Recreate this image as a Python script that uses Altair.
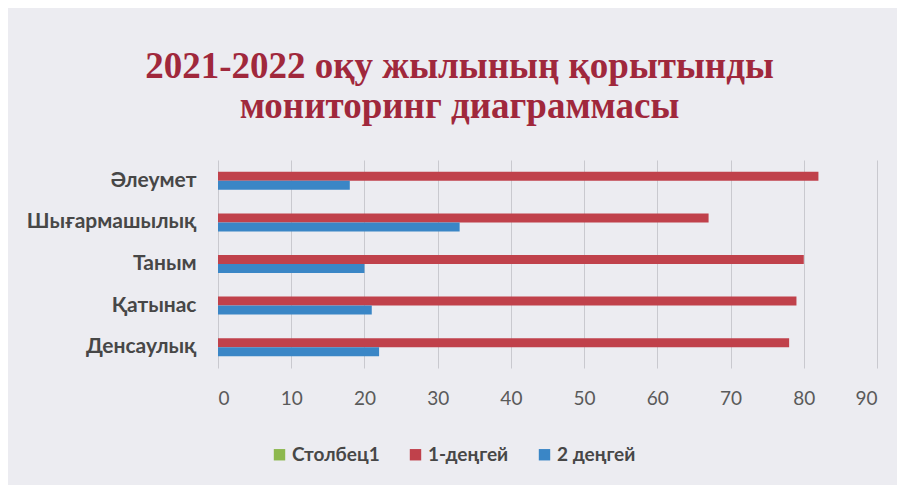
import altair as alt
import pandas as pd

categories = ["Әлеумет", "Шығармашылық", "Таным", "Қатынас", "Денсаулық"]
level1 = [82, 67, 80, 79, 78]
level2 = [18, 33, 20, 21, 22]
series_names = ["Столбец1", "1-деңгей", "2 деңгей"]
series_colors = ["#8db84e", "#c0414b", "#3a86c6"]
x_ticks = [0, 10, 20, 30, 40, 50, 60, 70, 80, 90]
title_lines = ["2021-2022 оқу жылының қорытынды", "мониторинг диаграммасы"]

rows = []
for c, a, b in zip(categories, level1, level2):
    rows.append({"cat": c, "series": series_names[1], "value": a})
    rows.append({"cat": c, "series": series_names[2], "value": b})
df = pd.DataFrame(rows)

label_font = "Lato"

chart = alt.Chart(df).mark_bar().encode(
    y=alt.Y("cat:N", sort=categories, title=None,
            scale=alt.Scale(paddingInner=0.567, paddingOuter=0.283),
            axis=alt.Axis(labelFont=label_font, labelFontSize=21, labelFontWeight="bold",
                          labelColor="#474747", labelPadding=22, ticks=False, domain=False,
                          grid=False)),
    yOffset=alt.YOffset("series:N", sort=series_names[1:],
                        scale=alt.Scale(domain=series_names[1:], paddingInner=0, paddingOuter=0)),
    x=alt.X("value:Q", title=None,
            scale=alt.Scale(domain=[0, 90], nice=False),
            axis=alt.Axis(values=x_ticks, labelFont=label_font, labelFontSize=19,
                          labelColor="#5a5a5a", labelPadding=21, ticks=False, domain=False,
                          grid=True, gridColor="#c9c9cf", gridWidth=1)),
    color=alt.Color("series:N",
                    scale=alt.Scale(domain=series_names, range=series_colors),
                    legend=alt.Legend(title=None, orient="none", direction="horizontal",
                                      legendX=52, legendY=285, symbolType="square",
                                      symbolSize=130, symbolStrokeWidth=0,
                                      labelFont=label_font, labelFontSize=19,
                                      labelFontWeight="bold",
                                      labelColor="#474747", columnPadding=26,
                                      labelOffset=3)),
).properties(
    width=659,
    height=208,
    title=alt.TitleParams(text=title_lines, font="Liberation Serif", fontSize=37,
                          fontWeight="bold", color="#a0283c", anchor="middle",
                          dx=-88, offset=34, lineHeight=40),
    autosize=alt.AutoSizeParams(type="none"),
    padding={"left": 210, "top": 152, "right": 20, "bottom": 117},
    background="#ececf1",
).configure_view(stroke=None)

chart.save("out.html", embed_options={"renderer": "svg", "actions": False})
